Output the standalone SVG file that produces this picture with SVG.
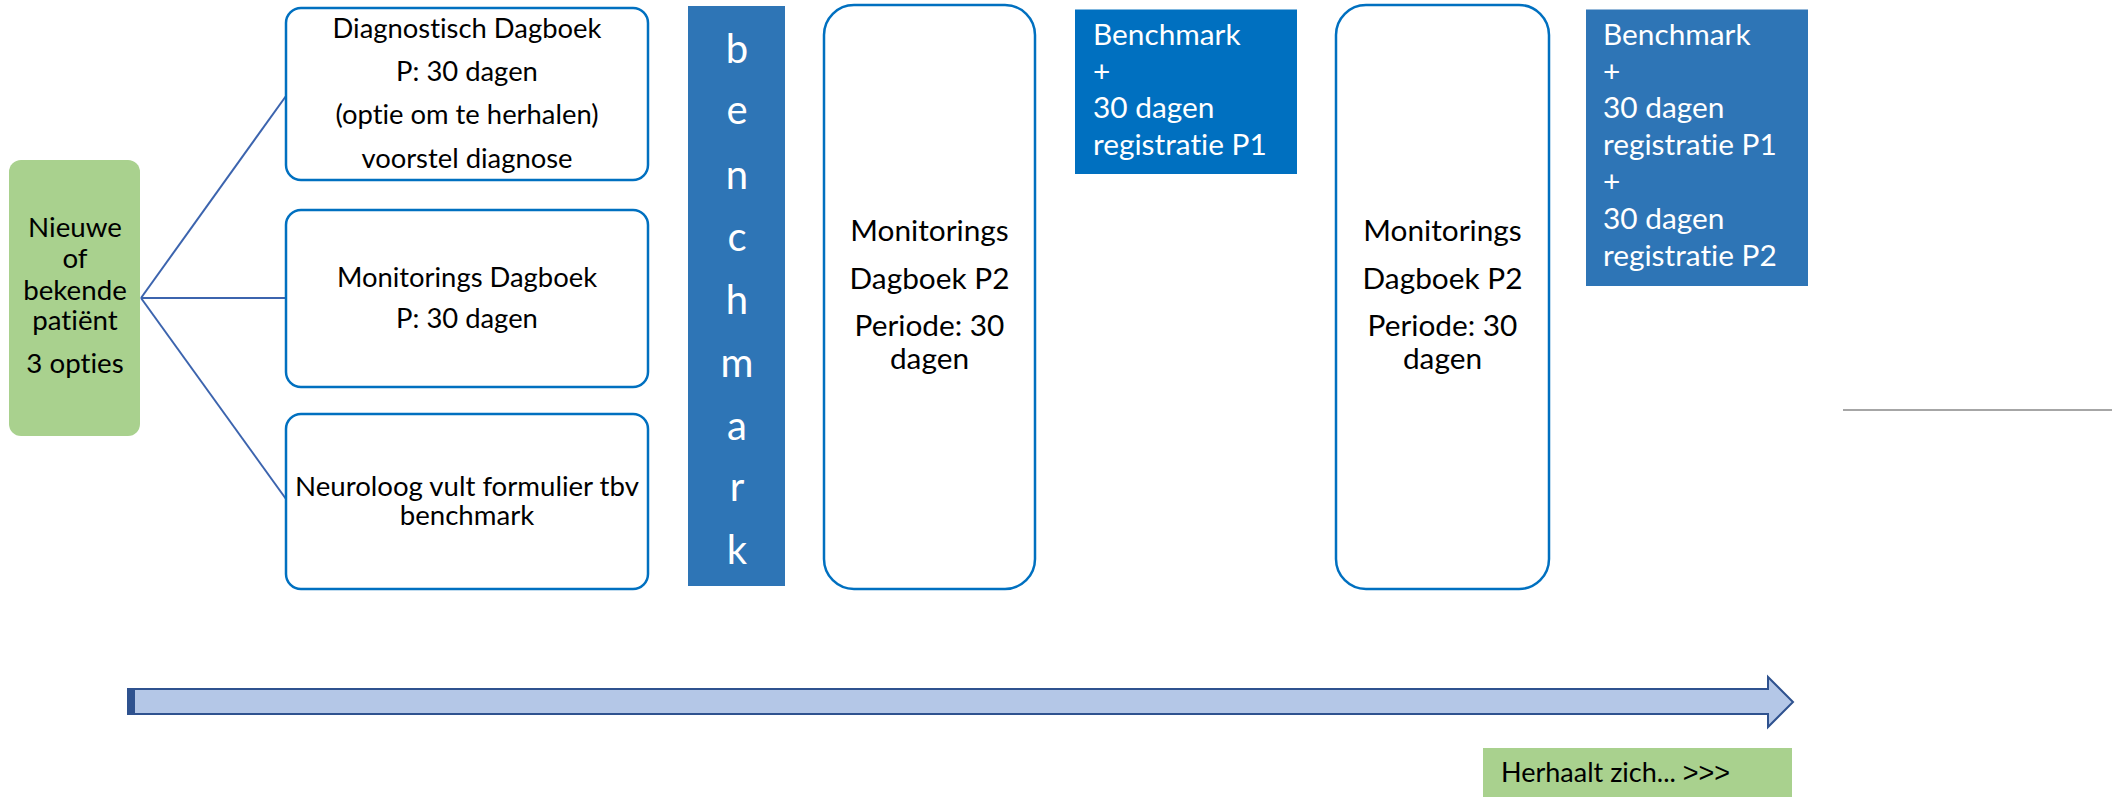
<svg xmlns="http://www.w3.org/2000/svg" width="2112" height="797" viewBox="0 0 2112 797">
<style>
.t{font-family:Lato,"Open Sans","Liberation Sans",sans-serif;fill:#000;font-variant-ligatures:none;font-feature-settings:"liga" 0,"dlig" 0}
.w{font-family:Lato,"Open Sans","Liberation Sans",sans-serif;fill:#fff;font-variant-ligatures:none;font-feature-settings:"liga" 0,"dlig" 0}
.box{fill:#fff;stroke:#0070C0;stroke-width:2.5}
.conn{stroke:#3C64AE;stroke-width:2;fill:none}
</style>
<rect width="2112" height="797" fill="#fff"/>
<g id="connectors">
<line class="conn" x1="141" y1="298" x2="286" y2="96"/>
<line class="conn" x1="141" y1="298" x2="286" y2="298"/>
<line class="conn" x1="141" y1="298" x2="286" y2="499"/>
</g>
<g id="patient">
<rect x="9" y="160" width="131" height="276" rx="12" fill="#A9D18E"/>
<g class="t" font-size="27.7" text-anchor="middle">
<text x="75" y="237">Nieuwe</text>
<text x="75" y="268">of</text>
<text x="75" y="300">bekende</text>
<text x="75" y="330">patiënt</text>
<text x="75" y="373">3 opties</text>
</g>
</g>
<g id="diagnostisch">
<rect class="box" x="286" y="8" width="362" height="172" rx="15"/>
<g class="t" font-size="27.4" text-anchor="middle">
<text x="467" y="38">Diagnostisch Dagboek</text>
<text x="467" y="81">P: 30 dagen</text>
<text x="467" y="124">(optie om te herhalen)</text>
<text x="467" y="168">voorstel diagnose</text>
</g>
</g>
<g id="monitorings1">
<rect class="box" x="286" y="210" width="362" height="177" rx="15"/>
<g class="t" font-size="27.4" text-anchor="middle">
<text x="467" y="287">Monitorings Dagboek</text>
<text x="467" y="328">P: 30 dagen</text>
</g>
</g>
<g id="neuroloog">
<rect class="box" x="286" y="414" width="362" height="175" rx="15"/>
<g class="t" font-size="27.6" text-anchor="middle">
<text x="467" y="496">Neuroloog vult formulier tbv</text>
<text x="467" y="525">benchmark</text>
</g>
</g>
<g id="benchmark">
<rect x="688" y="6" width="97" height="580" fill="#2E75B6"/>
<g class="w" font-size="40" text-anchor="middle">
<text x="737" y="63">b</text>
<text x="737" y="124">e</text>
<text x="737" y="189">n</text>
<text x="737" y="251">c</text>
<text x="737" y="314">h</text>
<text x="737" y="377">m</text>
<text x="737" y="440">a</text>
<text x="737" y="501">r</text>
<text x="737" y="564">k</text>
</g>
</g>
<g id="monitoringsP2a">
<rect class="box" x="824" y="5" width="211" height="584" rx="30"/>
<g class="t" font-size="29.8" text-anchor="middle">
<text x="929.5" y="241">Monitorings</text>
<text x="929.5" y="289">Dagboek P2</text>
<text x="929.5" y="336">Periode: 30</text>
<text x="929.5" y="369">dagen</text>
</g>
</g>
<g id="benchmarkP1">
<rect x="1075" y="9.5" width="222" height="164.5" fill="#0070C0"/>
<g class="w" font-size="29.8">
<text x="1093" y="45">Benchmark</text>
<text x="1093" y="82">+</text>
<text x="1093" y="118">30 dagen</text>
<text x="1093" y="155">registratie P1</text>
</g>
</g>
<g id="monitoringsP2b">
<rect class="box" x="1336" y="5" width="213" height="584" rx="30"/>
<g class="t" font-size="29.8" text-anchor="middle">
<text x="1442.5" y="241">Monitorings</text>
<text x="1442.5" y="289">Dagboek P2</text>
<text x="1442.5" y="336">Periode: 30</text>
<text x="1442.5" y="369">dagen</text>
</g>
</g>
<g id="benchmarkP1P2">
<rect x="1586" y="9.5" width="222" height="276.5" fill="#2E75B6"/>
<g class="w" font-size="29.8">
<text x="1603" y="45">Benchmark</text>
<text x="1603" y="82">+</text>
<text x="1603" y="118">30 dagen</text>
<text x="1603" y="155">registratie P1</text>
<text x="1603" y="192">+</text>
<text x="1603" y="229">30 dagen</text>
<text x="1603" y="266">registratie P2</text>
</g>
</g>
<g id="separator">
<line x1="1843" y1="410" x2="2112" y2="410" stroke="#A6A6A6" stroke-width="2"/>
</g>
<g id="timeline">
<polygon points="128,689 1768,689 1768,677 1793,702 1768,727 1768,714 128,714" fill="#B4C7E7" stroke="#2F528F" stroke-width="2"/>
<rect x="127" y="689" width="8" height="25" fill="#2F528F"/>
</g>
<g id="herhaalt">
<rect x="1483" y="748" width="309" height="49" fill="#A9D18E"/>
<text class="t" x="1501" y="782" font-size="27">Herhaalt zich... <tspan font-family="'Liberation Sans',sans-serif">&gt;&gt;&gt;</tspan></text>
</g>
</svg>
